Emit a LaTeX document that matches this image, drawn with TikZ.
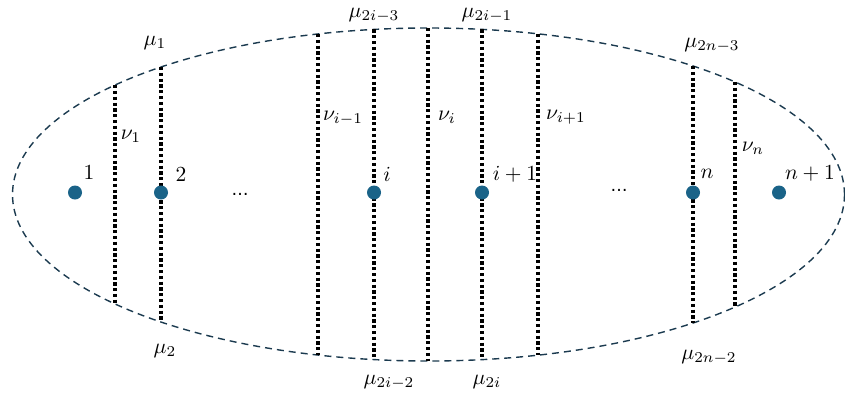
\documentclass[tikz,border=0pt]{standalone}
\usepackage{fontspec}
\newfontfamily\dejavu{DejaVu Sans}
\begin{document}
\begin{tikzpicture}[x=1pt,y=-1pt,
  lbl/.style={inner sep=0pt,scale=2.15},
  ell/.style={inner sep=0pt,font=\dejavu\fontsize{17}{19}\selectfont},
  vertex/.style={circle,fill=dotblue,minimum size=14pt,inner sep=0pt},
  cut/.style={line width=3.2pt,dash pattern=on 3.2pt off 2.6pt},
  border/.style={draw=edgeblue,line width=1.4pt,dash pattern=on 7pt off 5pt}]
\definecolor{dotblue}{HTML}{1A6388}
\definecolor{edgeblue}{HTML}{1B3A4F}
\useasboundingbox (0,0) rectangle (845,394);
\begin{scope}
\clip (0,0) rectangle (845,394);
\draw[border] (428.5,194.5) ellipse [x radius=416, y radius=166.5];
\end{scope}
% cut endpoints
\coordinate (a1) at (115,85.1);  \coordinate (b1) at (115,303.9);
\coordinate (a2) at (161,67.0);  \coordinate (b2) at (161,322.0);
\coordinate (a3) at (318,34.0);  \coordinate (b3) at (318,355.0);
\coordinate (a4) at (374,29.4);  \coordinate (b4) at (374,359.6);
\coordinate (a5) at (428,28.0);  \coordinate (b5) at (428,361.0);
\coordinate (a6) at (482,29.4);  \coordinate (b6) at (482,359.6);
\coordinate (a7) at (538,33.9);  \coordinate (b7) at (538,355.1);
\coordinate (a8) at (693,66.0);  \coordinate (b8) at (693,323.0);
\coordinate (a9) at (735,81.9);  \coordinate (b9) at (735,307.1);
\foreach \k in {1,...,9} {\draw[cut] (a\k) -- (b\k);}
% vertices
\node[vertex] (v1) at (75,192.5) {};
\node[vertex] (v2) at (161,192.5) {};
\node[vertex] (vi) at (374,192.5) {};
\node[vertex] (vi1) at (482,192.5) {};
\node[vertex] (vn) at (693,192.5) {};
\node[vertex] (vn1) at (779,192.5) {};
% vertex labels
\node[lbl] (l1) at (89,173) {$1$};
\node[lbl] (l2) at (181,175) {$2$};
\node[lbl] (li) at (387,174) {$i$};
\node[lbl] (li1) at (515,174) {$i+1$};
\node[lbl] (ln) at (707,174) {$n$};
\node[lbl] (ln1) at (810,173) {$n+1$};
\node[ell] (d1) at (240,194) {…};
\node[ell] (d2) at (619,190) {…};
% mu labels
\node[lbl] (m1) at (155,43) {$\mu_1$};
\node[lbl] (m2) at (165,351) {$\mu_2$};
\node[lbl] (m3) at (374,15) {$\mu_{2i-3}$};
\node[lbl] (m4) at (389,382) {$\mu_{2i-2}$};
\node[lbl] (m5) at (487,15) {$\mu_{2i-1}$};
\node[lbl] (m6) at (487,382) {$\mu_{2i}$};
\node[lbl] (m7) at (712,45) {$\mu_{2n-3}$};
\node[lbl] (m8) at (709,357) {$\mu_{2n-2}$};
% nu labels
\node[lbl] (n1) at (131,136) {$\nu_1$};
\node[lbl] (n2) at (343,118) {$\nu_{i-1}$};
\node[lbl] (n3) at (447,117) {$\nu_i$};
\node[lbl] (n4) at (566,117) {$\nu_{i+1}$};
\node[lbl] (n5) at (753,148) {$\nu_n$};
\end{tikzpicture}
\end{document}
